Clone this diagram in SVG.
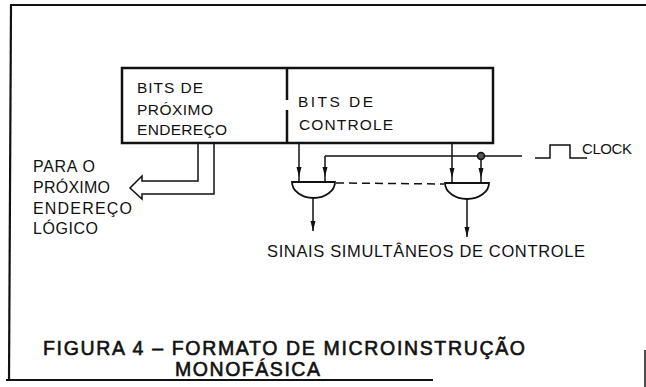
<svg xmlns="http://www.w3.org/2000/svg" width="646" height="387" viewBox="0 0 646 387">
<style>
.t{font-family:"Liberation Sans",Arial,sans-serif;fill:#111;}
.c{stroke:#111;stroke-width:0.6;}
.w{fill:none;stroke:#111;stroke-width:1.5;}
.f{fill:none;stroke:#111;stroke-width:2.2;}
</style>
<defs>
<marker id="ar" markerUnits="userSpaceOnUse" markerWidth="12" markerHeight="6" refX="10" refY="2.5" orient="auto">
<path d="M0,0 L10,2.5 L0,5 Z" fill="#111"/>
</marker>
</defs>
<rect width="646" height="387" fill="#fff"/>
<g id="frame">
<path class="f" d="M10,5 H646"/>
<path class="f" d="M11,5 L9,381"/>
<path class="f" d="M6,380 H433"/>
<path class="w" d="M645,350 V387"/>
</g>
<g id="microinstruction">
<rect x="122" y="68" width="371" height="75" fill="none" stroke="#111" stroke-width="2.5"/>
<path d="M287,68 V100 M287,110 V143" stroke="#111" stroke-width="2.5"/>
<text class="t" font-size="15.5" x="137" y="93" textLength="66" lengthAdjust="spacing">BITS DE</text>
<text class="t" font-size="15.5" x="137" y="115" textLength="76" lengthAdjust="spacing">PRÓXIMO</text>
<text class="t" font-size="15.5" x="137" y="135" textLength="90" lengthAdjust="spacing">ENDEREÇO</text>
<text class="t" font-size="15.5" x="298" y="107" textLength="75" lengthAdjust="spacing">BITS DE</text>
<text class="t" font-size="15.5" x="299" y="130" textLength="94" lengthAdjust="spacing">CONTROLE</text>
</g>
<g id="next-address">
<text class="t" font-size="16" x="33" y="172" textLength="62" lengthAdjust="spacing">PARA O</text>
<text class="t" font-size="16" x="33" y="193" textLength="77" lengthAdjust="spacing">PRÓXIMO</text>
<text class="t" font-size="16" x="33" y="214" textLength="99" lengthAdjust="spacing">ENDEREÇO</text>
<text class="t" font-size="16" x="33" y="234" textLength="65" lengthAdjust="spacing">LÓGICO</text>
</g>
<g id="gate1">
<path d="M292,182 H335 A21.5,16 0 0 1 292,182 Z" fill="#fff" stroke="#111" stroke-width="1.8"/>
</g>
<g id="gate2">
<path d="M445,183 H489 A22,16 0 0 1 445,183 Z" fill="#fff" stroke="#111" stroke-width="1.8"/>
</g>
<g id="clock">
<path class="w" d="M535,158 H550 V145 H570 V158 H587"/>
<text class="t" font-size="15" x="582" y="154" textLength="50" lengthAdjust="spacing">CLOCK</text>
</g>
<g id="signals">
<text class="t" font-size="16.5" x="267" y="257" textLength="318" lengthAdjust="spacing">SINAIS SIMULTÂNEOS DE CONTROLE</text>
</g>
<g id="caption">
<text class="t c" font-size="19.5" x="43" y="355" textLength="482" lengthAdjust="spacing">FIGURA 4 – FORMATO DE MICROINSTRUÇÃO</text>
<text class="t c" font-size="19.5" x="175" y="376" textLength="145" lengthAdjust="spacing">MONOFÁSICA</text>
</g>
<g id="connectors">
<path class="w" d="M198,143 V181 H142 V176 L130,188 L142,199 V194 H214 V143"/>
<path class="w" d="M299,143 L299,177 L299,182" marker-mid="url(#ar)"/>
<path class="w" d="M522,156 H325"/>
<path class="w" d="M325,156 L325,177 L325,182" marker-mid="url(#ar)"/>
<path class="w" d="M452,143 L452,178 L452,183" marker-mid="url(#ar)"/>
<path class="w" d="M481,156 L481,178 L481,183" marker-mid="url(#ar)"/>
<circle cx="481" cy="156" r="3.5" fill="#555" stroke="#111" stroke-width="1.5"/>
<path class="w" d="M313,198 V231" marker-end="url(#ar)"/>
<path class="w" d="M467,199 V237" marker-end="url(#ar)"/>
<path class="w" d="M336,183 L444,184" stroke-dasharray="8,5"/>
</g>
</svg>
